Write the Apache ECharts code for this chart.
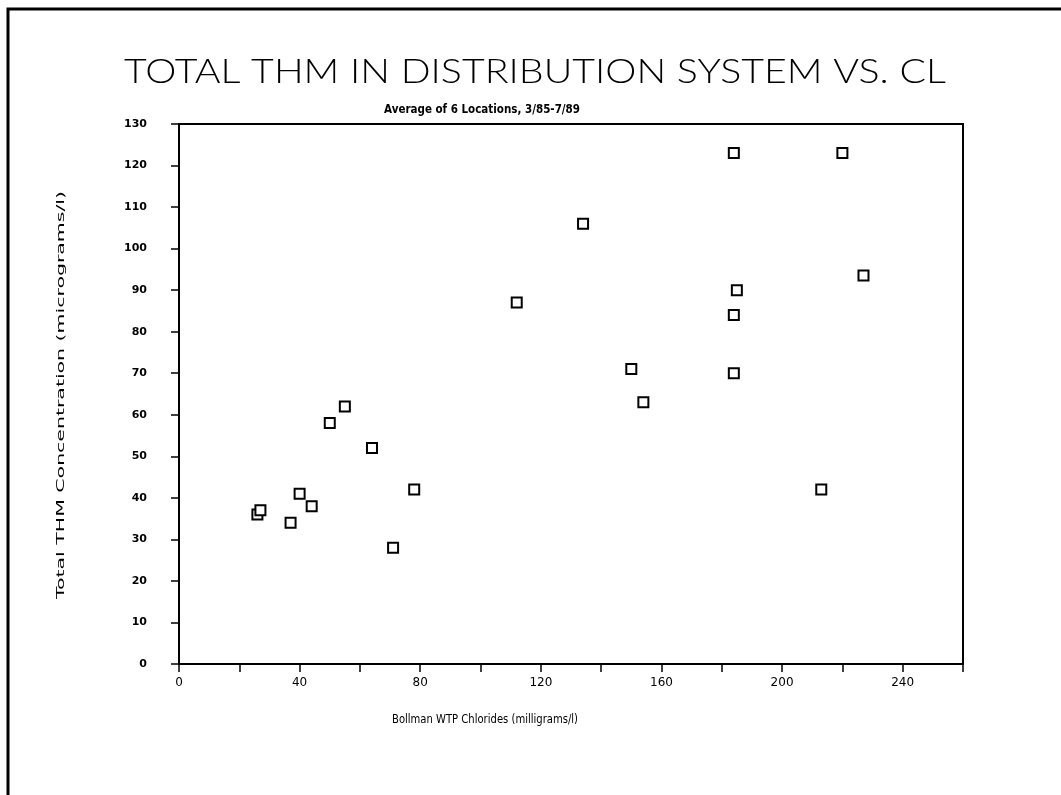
<!DOCTYPE html>
<html>
<head>
<meta charset="utf-8">
<script src="https://cdn.jsdelivr.net/npm/echarts@6/dist/echarts.min.js"></script>
<style>
  html, body { margin: 0; padding: 0; background: #fff; }
  #chart { width: 1061px; height: 795px; }
</style>
</head>
<body>
<div id="chart"></div>
<script>
// Bollman WTP chlorides (mg/l) vs. total THM in the distribution system (ug/l)
const chlorides = [26, 27, 37, 40, 44, 50, 55, 64, 71, 78, 112, 134, 150, 154, 184, 184, 185, 184, 213, 220, 227];
const thm       = [36, 37, 34, 41, 38, 58, 62, 52, 28, 42, 87, 106, 71, 63, 123, 84, 90, 70, 42, 123, 93.5];

const xLabelStep = 40;   // x ticks every 20, labels every 40
const titleText = 'TOTAL THM IN DISTRIBUTION SYSTEM VS. CL';
const subtitleText = 'Average of 6 Locations, 3/85-7/89';
const xName = 'Bollman WTP Chlorides (milligrams/l)';
const yName = 'Total THM Concentration (micrograms/l)';

// horizontal stretch so a text line spans a given width
const measureCtx = document.createElement('canvas').getContext('2d');
function stretchFor(text, weight, size, family, width) {
  measureCtx.font = weight + ' ' + size + 'px ' + family;
  const w = measureCtx.measureText(text).width;
  return w > 0 ? width / w : 1;
}

function stretchedText(text, x, y, weight, size, family, width, rotation) {
  return {
    type: 'text',
    x: x, y: y,
    rotation: rotation || 0,
    scaleX: stretchFor(text, weight, size, family, width),
    style: {
      text: text,
      fontWeight: weight,
      fontSize: size,
      fontFamily: family,
      fill: '#000',
      align: 'center',
      verticalAlign: 'middle'
    }
  };
}

const chart = echarts.init(document.getElementById('chart'), null, { renderer: 'canvas' });

chart.setOption({
  backgroundColor: '#fff',
  animation: false,
  grid: {
    left: 179, right: 98, top: 124, bottom: 131,
    show: true,
    borderColor: '#000',
    borderWidth: 2,
    backgroundColor: 'transparent'
  },
  xAxis: {
    type: 'value',
    min: 0, max: 260, interval: 20,
    axisLine: { show: true, onZero: false, lineStyle: { color: '#000', width: 2 } },
    axisTick: { show: true, inside: false, length: 8, lineStyle: { color: '#000', width: 1.5 } },
    splitLine: { show: false },
    axisLabel: {
      color: '#000',
      fontFamily: 'DejaVu Sans',
      fontSize: 12,
      margin: 13,
      formatter: function (v) { return v % xLabelStep === 0 ? String(v) : ''; }
    }
  },
  yAxis: {
    type: 'value',
    min: 0, max: 130, interval: 10,
    axisLine: { show: true, onZero: false, lineStyle: { color: '#000', width: 2 } },
    axisTick: { show: true, inside: false, length: 8, lineStyle: { color: '#000', width: 1.5 } },
    splitLine: { show: false },
    axisLabel: {
      color: '#000',
      fontFamily: 'DejaVu Sans',
      fontWeight: 'bold',
      fontSize: 11,
      margin: 32
    }
  },
  series: [{
    type: 'scatter',
    data: chlorides.map(function (c, i) { return [c, thm[i]]; }),
    symbol: 'rect',
    symbolSize: 10,
    itemStyle: { color: '#fff', borderColor: '#000', borderWidth: 2, opacity: 1 }
  }],
  graphic: [
    {
      type: 'polyline',
      shape: { points: [[8, 795], [8, 9], [1061, 9]] },
      style: { stroke: '#000', lineWidth: 3, fill: null }
    },
    stretchedText(titleText, 535, 72, 300, 33, 'Lato', 822),
    stretchedText(subtitleText, 482, 110, 'bold', 12, 'DejaVu Sans', 196),
    stretchedText(xName, 485, 720, 'normal', 12, 'DejaVu Sans', 186),
    stretchedText(yName, 61, 395, 'normal', 11, 'DejaVu Sans', 408, Math.PI / 2)
  ]
});
</script>
</body>
</html>
